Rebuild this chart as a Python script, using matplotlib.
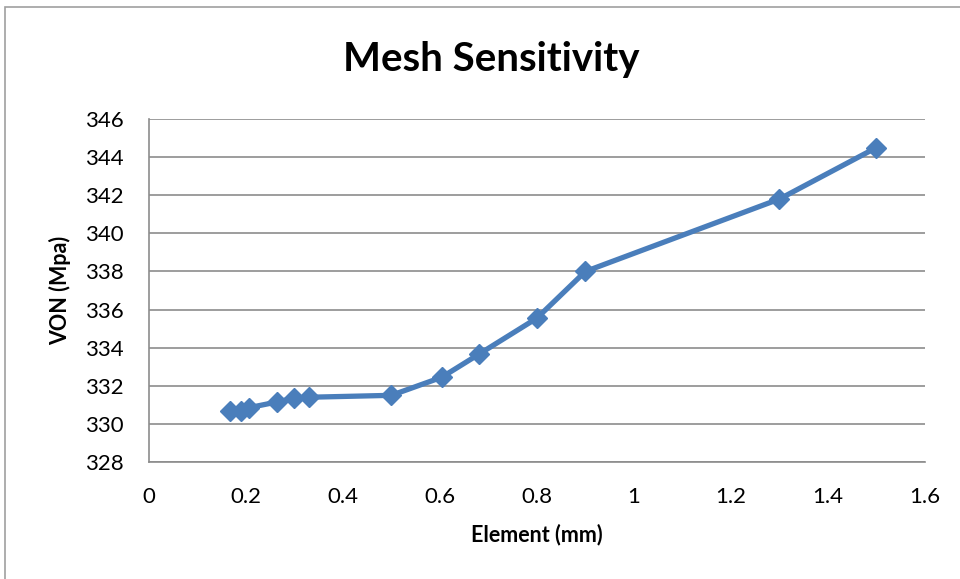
import matplotlib.pyplot as plt
from matplotlib.patches import Rectangle

element = [0.167, 0.19, 0.206, 0.264, 0.30, 0.33, 0.50, 0.604, 0.68, 0.80, 0.90, 1.30, 1.50]
von = [330.7, 330.7, 330.85, 331.15, 331.35, 331.4, 331.5, 332.45, 333.65, 335.55, 338.0, 341.8, 344.5]

plt.rcParams['font.family'] = ['Lato', 'DejaVu Sans']

fig = plt.figure(figsize=(9.6, 5.79), dpi=100)
ax = fig.add_axes([0.155, 0.202, 0.8085, 0.5925])

# chart border like Excel
fig.patches.append(Rectangle((5 / 960, -0.1), 1.1, 1 - 7 / 579 + 0.1, transform=fig.transFigure,
                             fill=False, edgecolor='#a0a0a0', linewidth=1.2))

ax.plot(element, von, color='#4A7EBB', linewidth=3.8, marker='D', markersize=10,
        markerfacecolor='#4A7EBB', markeredgecolor='#4A7EBB', zorder=3)

ax.set_xlim(0, 1.6)
ax.set_ylim(328, 346)
ax.set_xticks([0, 0.2, 0.4, 0.6, 0.8, 1, 1.2, 1.4, 1.6])
ax.set_xticklabels(['0', '0.2', '0.4', '0.6', '0.8', '1', '1.2', '1.4', '1.6'])
ax.set_yticks(range(328, 347, 2))
ax.grid(axis='y', color='#8c8c8c', linewidth=1.2)
ax.set_axisbelow(True)
for s in ['top', 'right']:
    ax.spines[s].set_visible(False)
ax.spines['left'].set_color('#8c8c8c')
ax.spines['bottom'].set_color('#8c8c8c')
ax.spines['left'].set_linewidth(1.2)
ax.spines['bottom'].set_linewidth(1.2)
ax.tick_params(axis='x', length=0, labelsize=16, pad=18)
ax.tick_params(axis='y', length=0, labelsize=16, pad=18)

fig.text(491 / 960, 1 - 60 / 579, 'Mesh Sensitivity', fontsize=29, fontweight='bold',
         ha='center', va='center')
ax.set_xlabel('Element (mm)', fontsize=15.5, fontweight='bold', labelpad=12)
ax.set_ylabel('VON (Mpa)', fontsize=15.5, fontweight='bold', labelpad=10)

plt.savefig('out.png', dpi=100)
